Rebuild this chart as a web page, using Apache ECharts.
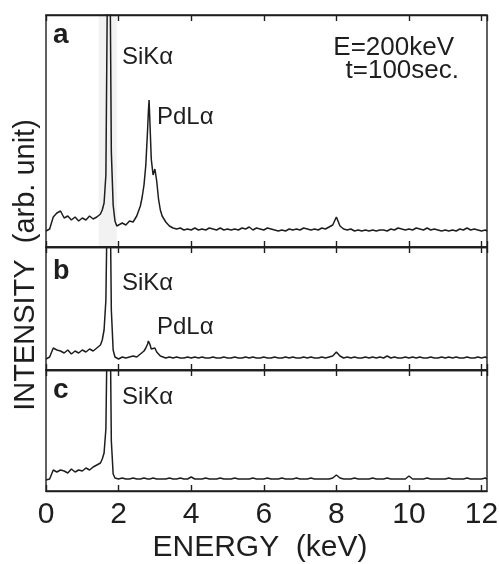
<!DOCTYPE html>
<html>
<head>
<meta charset="utf-8">
<script src="https://cdn.jsdelivr.net/npm/echarts@6/dist/echarts.min.js"></script>
<style>
  html, body { margin: 0; padding: 0; background: #fff; }
  #chart { width: 499px; height: 564px; }
</style>
</head>
<body>
<div id="chart"></div>
<script>
  // energy grid (keV), finer around the peaks
  var energy = [
    0.0, 0.1, 0.2, 0.3, 0.4, 0.5, 0.6, 0.7, 0.8, 0.9, 1.0, 1.1, 1.2, 1.3, 1.4, 1.5,
    1.55, 1.6, 1.65, 1.7, 1.72, 1.74, 1.76, 1.78, 1.8, 1.85, 1.9, 1.95,
    2.0, 2.1, 2.2, 2.3, 2.4, 2.5, 2.6,
    2.65, 2.7, 2.75, 2.8, 2.82, 2.84, 2.86, 2.9, 2.95, 3.0, 3.05, 3.1, 3.15,
    3.2, 3.3, 3.4, 3.5, 3.6, 3.7, 3.8, 3.9, 4.0, 4.1,
    4.2, 4.3, 4.4, 4.5, 4.6, 4.7, 4.8, 4.9, 5.0, 5.1,
    5.2, 5.3, 5.4, 5.5, 5.6, 5.7, 5.8, 5.9, 6.0, 6.1,
    6.2, 6.3, 6.4, 6.5, 6.6, 6.7, 6.8, 6.9, 7.0, 7.1,
    7.2, 7.3, 7.4, 7.5, 7.6, 7.7, 7.8, 7.9, 8.0, 8.1,
    8.2, 8.3, 8.4, 8.5, 8.6, 8.7, 8.8, 8.9, 9.0, 9.1,
    9.2, 9.3, 9.4, 9.5, 9.6, 9.7, 9.8, 9.9, 10.0, 10.1,
    10.2, 10.3, 10.4, 10.5, 10.6, 10.7, 10.8, 10.9, 11.0, 11.1,
    11.2, 11.3, 11.4, 11.5, 11.6, 11.7, 11.8, 11.9, 12.0, 12.1,
    12.15
  ];

  // spectrum a (Si + Pd)
  var spectrumA = [
    16, 18, 30, 34, 36, 29, 31, 27, 30, 26, 29, 27, 31, 28, 30, 33,
    37, 44, 72, 300, 300, 300, 300, 300, 95, 42, 26, 21,
    20, 24, 22, 26, 25, 31, 41,
    50, 62, 82, 118, 135, 147, 128, 88, 72, 78, 66, 48, 37,
    31, 25, 21, 19, 18, 19, 17, 18, 17, 19,
    17, 18, 17, 19, 18, 17, 19, 17, 18, 17,
    18, 17, 19, 18, 20, 17, 19, 18, 17, 19,
    18, 17, 16, 17, 16, 18, 17, 18, 17, 19,
    18, 17, 18, 17, 19, 18, 20, 22, 30, 21,
    18, 17, 18, 16, 17, 16, 17, 16, 17, 16,
    17, 17, 16, 18, 17, 19, 18, 17, 18, 17,
    19, 18, 17, 19, 17, 18, 17, 16, 17, 16,
    17, 16, 18, 17, 19, 17, 18, 17, 16, 17,
    16
  ];

  // spectrum b
  var spectrumB = [
    11, 13, 22, 20, 19, 17, 20, 16, 19, 17, 20, 18, 21, 19, 22, 25,
    30, 40, 70, 200, 200, 200, 200, 200, 60, 20, 13, 12,
    11, 13, 12, 13, 14, 13, 16,
    17, 19, 22, 26, 29, 30, 26, 21, 20, 22, 18, 16, 14,
    13, 12, 13, 12, 13, 12, 12, 13, 12, 13,
    12, 13, 12, 12, 13, 12, 12, 13, 12, 12,
    13, 12, 12, 13, 12, 13, 12, 12, 13, 12,
    12, 13, 12, 12, 13, 12, 13, 12, 12, 13,
    12, 13, 12, 12, 13, 12, 13, 14, 18, 14,
    12, 13, 12, 13, 12, 12, 13, 12, 13, 12,
    13, 12, 14, 12, 13, 12, 12, 13, 12, 13,
    12, 13, 12, 12, 13, 12, 12, 13, 12, 13,
    12, 13, 12, 12, 13, 12, 12, 13, 12, 13,
    12
  ];

  // spectrum c (Si only)
  var spectrumC = [
    11, 12, 21, 19, 21, 20, 18, 22, 19, 21, 20, 23, 21, 24, 26, 28,
    32, 38, 62, 200, 200, 200, 200, 200, 50, 17, 13, 12,
    12, 13, 12, 12, 13, 12, 12,
    12, 13, 12, 12, 13, 12, 12, 12, 13, 12, 12, 13, 12,
    12, 12, 13, 12, 12, 13, 12, 12, 14, 12,
    12, 12, 13, 12, 12, 12, 13, 12, 12, 12,
    13, 12, 12, 12, 12, 13, 12, 12, 12, 13,
    12, 12, 12, 13, 12, 12, 12, 13, 12, 12,
    12, 13, 12, 12, 12, 12, 12, 13, 16, 13,
    12, 12, 12, 13, 12, 12, 12, 12, 13, 12,
    12, 12, 13, 12, 12, 12, 12, 12, 15, 12,
    12, 12, 12, 13, 12, 12, 12, 12, 12, 13,
    12, 12, 12, 12, 13, 12, 12, 12, 12, 13,
    12
  ];

  var xTicks = ["0", "2", "4", "6", "8", "10", "12"];
  var panelMax = [232, 123, 121];

  var font = "'Liberation Sans', Arial, sans-serif";
  var ink = "#1e1e1e";

  var chart = echarts.init(document.getElementById("chart"));

  // the frame runs a little past 12 keV on the right
  var grids = [
    {left: 46, top: 15, width: 441, height: 232},
    {left: 46, top: 247, width: 441, height: 123},
    {left: 46, top: 370, width: 441, height: 121}
  ];

  function tickText(v) {
    var k = Math.round(v / 2);
    return Math.abs(v - k * 2) < 1e-6 ? xTicks[k] : "";
  }

  var xAxes = [];
  var yAxes = [];
  grids.forEach(function (g, i) {
    ["bottom", "top"].forEach(function (pos) {
      xAxes.push({
        type: "value",
        gridIndex: i,
        position: pos,
        min: 0,
        max: 12.15,
        interval: 2,
        axisLine: {show: true, lineStyle: {color: ink, width: 1.4}},
        axisTick: {show: true, inside: true, length: 6, lineStyle: {color: ink, width: 1.4}},
        axisLabel: {
          show: i === 2 && pos === "bottom",
          margin: 9,
          fontSize: 30,
          fontFamily: font,
          color: ink,
          showMaxLabel: false,
          formatter: tickText
        },
        splitLine: {show: false}
      });
    });
    yAxes.push({
      type: "value",
      gridIndex: i,
      min: 0,
      max: panelMax[i],
      show: false
    });
  });

  function pairs(values) {
    return energy.map(function (e, k) { return [e, values[k]]; });
  }

  function spectrum(idx, values, extra) {
    var s = {
      type: "line",
      xAxisIndex: idx * 2,
      yAxisIndex: idx,
      data: pairs(values),
      showSymbol: false,
      clip: true,
      lineStyle: {color: ink, width: 1.5},
      animation: false
    };
    return Object.assign(s, extra || {});
  }

  function txt(text, x, y, size, extra) {
    return {
      type: "text",
      x: x,
      y: y,
      style: Object.assign({
        text: text,
        fill: ink,
        fontSize: size,
        fontFamily: font,
        verticalAlign: "middle"
      }, extra || {})
    };
  }

  chart.setOption({
    backgroundColor: "#fff",
    grid: grids.map(function (g) {
      return Object.assign({
        show: true,
        borderColor: ink,
        borderWidth: 1.4,
        backgroundColor: "transparent",
        outerBoundsMode: "none",
        containLabel: false
      }, g);
    }),
    xAxis: xAxes,
    yAxis: yAxes,
    series: [
      spectrum(0, spectrumA, {
        markArea: {
          silent: true,
          itemStyle: {color: "rgba(0,0,0,0.05)"},
          data: [[{xAxis: 1.45}, {xAxis: 1.95}]]
        }
      }),
      spectrum(1, spectrumB),
      spectrum(2, spectrumC)
    ],
    graphic: [
      txt("a", 53, 35, 28, {fontWeight: "bold"}),
      txt("b", 53, 272, 27, {fontWeight: "bold"}),
      txt("c", 53, 390, 28, {fontWeight: "bold"}),
      txt("SiKα", 122, 57, 24),
      txt("PdLα", 157, 117, 24),
      txt("SiKα", 122, 283, 24),
      txt("PdLα", 157, 327, 24),
      txt("SiKα", 122, 397, 24),
      txt("E=200keV", 454, 48, 26, {align: "right"}),
      txt("t=100sec.", 459, 71, 26, {align: "right"}),
      txt("ENERGY  (keV)", 260, 548, 30, {align: "center"}),
      Object.assign(txt("INTENSITY  (arb. unit)", 26, 265, 29, {align: "center"}), {rotation: Math.PI / 2})
    ]
  });
</script>
</body>
</html>
